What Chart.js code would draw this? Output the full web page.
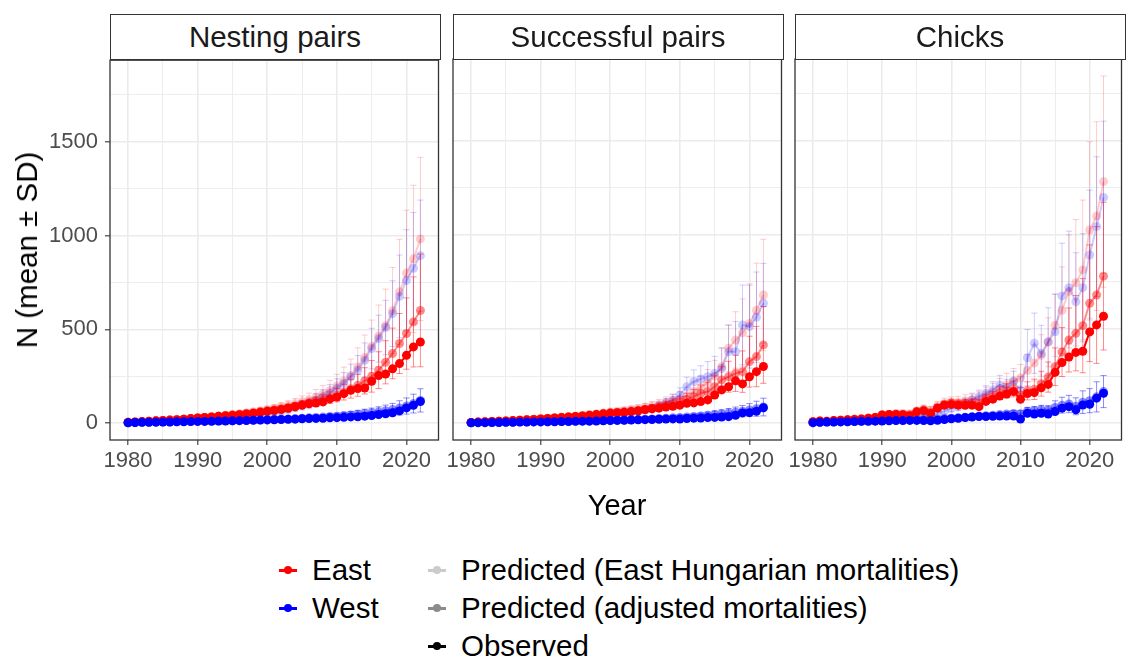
<!DOCTYPE html>
<html lang="en">
<head>
<meta charset="UTF-8">
<title>Nesting pairs, successful pairs and chicks, 1980-2022</title>
<script src="https://cdn.jsdelivr.net/npm/chart.js"></script>
<style>
    body {
        margin: 0;
        background: #fff;
        font-family: 'Liberation Sans', Arial, sans-serif;
    }
    #wrap {
        position: relative;
        width: 1126px;
        height: 657px;
        overflow: hidden;
    }
    canvas {
        position: absolute;
    }
    .strip {
        position: absolute;
        top: 14px;
        height: 46px;
        width: 331px;
        box-sizing: border-box;
        border: 1.3px solid #333;
        background: #fff;
        font-size: 29.5px;
        color: #1a1a1a;
        text-align: center;
        line-height: 43px;
    }
    .ytitle {
        position: absolute;
        left: 27px;
        top: 250px;
        transform: translate(-50%, -50%) rotate(-90deg);
        font-size: 29.5px;
        white-space: nowrap;
    }
    .xtitle {
        position: absolute;
        left: 617px;
        top: 505px;
        transform: translate(-50%, -50%);
        font-size: 29px;
    }
    .item {
        position: absolute;
        display: flex;
        align-items: center;
        transform: translateY(-50%);
        font-size: 29.5px;
        white-space: nowrap;
    }
    .key {
        position: relative;
        width: 18px;
        height: 10px;
        margin-right: 15px;
    }
    .key::before {
        content: '';
        position: absolute;
        left: 0;
        right: 0;
        top: 4px;
        height: 2.5px;
        background: currentColor;
    }
    .key::after {
        content: '';
        position: absolute;
        left: 5px;
        top: 1px;
        width: 8px;
        height: 8px;
        border-radius: 50%;
        background: currentColor;
    }
</style>
</head>
<body>
<div id="wrap">
    <canvas id="nest" width="443" height="460" style="left:0;top:40px"></canvas>
    <canvas id="succ" width="353" height="460" style="left:433px;top:40px"></canvas>
    <canvas id="chick" width="351" height="460" style="left:775px;top:40px"></canvas>

    <div class="strip" style="left:109.5px">Nesting pairs</div>
    <div class="strip" style="left:452.5px">Successful pairs</div>
    <div class="strip" style="left:794.5px">Chicks</div>

    <div class="ytitle">N (mean ± SD)</div>
    <div class="xtitle">Year</div>

    <div class="item" style="left:279px;top:570px"><span class="key" style="color:#ff0000"></span>East</div>
    <div class="item" style="left:279px;top:608px"><span class="key" style="color:#0000ff"></span>West</div>
    <div class="item" style="left:428px;top:570px"><span class="key" style="color:#000;opacity:0.2"></span>Predicted (East Hungarian mortalities)</div>
    <div class="item" style="left:428px;top:608px"><span class="key" style="color:#000;opacity:0.45"></span>Predicted (adjusted mortalities)</div>
    <div class="item" style="left:428px;top:646px"><span class="key" style="color:#000"></span>Observed</div>
</div>

<script>
    const years = [
        1980, 1981, 1982, 1983, 1984, 1985, 1986, 1987, 1988, 1989,
        1990, 1991, 1992, 1993, 1994, 1995, 1996, 1997, 1998, 1999,
        2000, 2001, 2002, 2003, 2004, 2005, 2006, 2007, 2008, 2009,
        2010, 2011, 2012, 2013, 2014, 2015, 2016, 2017, 2018, 2019,
        2020, 2021, 2022
    ];
    const xTicks = [1980, 1985, 1990, 1995, 2000, 2005, 2010, 2015, 2020];
    const yTicks = [0, 250, 500, 750, 1000, 1250, 1500, 1750];

    // Nesting pairs
    const nestEastObs = [
        5, 7, 9, 11, 13, 15, 17, 19, 22, 25,
        28, 31, 34, 37, 40, 43, 46, 50, 54, 59,
        64, 68, 73, 80, 88, 96, 104, 108, 114, 130,
        140, 158, 176, 185, 188, 224, 254, 262, 290, 318,
        362, 407, 433
    ];
    const nestWestObs = [
        3, 4, 5, 5, 6, 7, 7, 8, 8, 9,
        10, 10, 11, 12, 12, 13, 14, 15, 16, 17,
        18, 19, 20, 21, 22, 24, 25, 26, 27, 29,
        30, 32, 34, 35, 38, 41, 47, 51, 56, 66,
        82, 96, 116
    ];
    const nestEastAdj = [
        5, 7, 9, 11, 13, 15, 17, 19, 22, 25,
        28, 31, 34, 37, 40, 44, 48, 52, 56, 61,
        66, 72, 78, 85, 92, 100, 108, 116, 125, 136,
        150, 166, 184, 202, 226, 250, 283, 325, 372, 425,
        478, 540, 601
    ];
    const nestEastAdjSd = [
        1, 1, 1, 2, 2, 2, 3, 3, 3, 4,
        4, 5, 5, 6, 6, 7, 8, 8, 9, 10,
        11, 12, 14, 15, 17, 19, 21, 24, 27, 31,
        36, 42, 50, 58, 70, 84, 98, 115, 135, 160,
        190, 240, 300
    ];
    const nestWestAdj = [
        3, 4, 5, 5, 6, 7, 7, 8, 9, 9,
        10, 11, 12, 12, 13, 14, 15, 16, 17, 18,
        19, 20, 22, 23, 25, 27, 29, 31, 33, 36,
        38, 41, 44, 48, 52, 56, 61, 67, 73, 82,
        92, 105, 122
    ];
    const nestWestAdjSd = [
        1, 1, 2, 2, 2, 2, 3, 3, 3, 3,
        4, 4, 4, 5, 5, 5, 6, 6, 7, 7,
        8, 8, 9, 9, 10, 11, 12, 13, 14, 15,
        16, 17, 19, 21, 23, 25, 27, 30, 33, 38,
        43, 50, 62
    ];
    const nestEastEH = [
        5, 7, 9, 11, 13, 15, 17, 20, 23, 26,
        29, 32, 35, 39, 43, 47, 51, 56, 61, 67,
        73, 80, 88, 96, 105, 115, 126, 140, 156, 175,
        198, 225, 255, 300, 350, 410, 465, 520, 600, 700,
        800, 876, 982
    ];
    const nestEastEHSd = [
        1, 1, 2, 2, 3, 3, 3, 4, 5, 5,
        6, 7, 7, 8, 9, 10, 11, 12, 14, 15,
        17, 19, 21, 24, 27, 31, 35, 40, 46, 54,
        63, 74, 87, 102, 120, 140, 165, 195, 230, 280,
        335, 392, 435
    ];
    const nestWestEH = [
        3, 4, 5, 6, 7, 9, 10, 12, 14, 16,
        18, 20, 22, 25, 28, 31, 35, 40, 45, 50,
        55, 60, 66, 75, 85, 97, 106, 124, 141, 162,
        186, 212, 247, 283, 336, 398, 451, 510, 584, 676,
        761, 826, 893
    ];
    const nestWestEHSd = [
        1, 1, 1, 2, 2, 2, 3, 3, 3, 4,
        4, 5, 5, 6, 7, 8, 9, 10, 12, 13,
        15, 16, 18, 20, 23, 26, 29, 33, 38, 44,
        51, 58, 68, 78, 92, 108, 125, 145, 175, 220,
        270, 297, 296
    ];

    // Successful pairs
    const succEastObs = [
        4, 6, 8, 9, 11, 12, 14, 16, 18, 20,
        23, 25, 28, 30, 33, 36, 39, 42, 46, 50,
        54, 56, 58, 62, 66, 72, 76, 80, 86, 90,
        96, 106, 108, 115, 124, 150, 177, 194, 225, 209,
        247, 274, 301
    ];
    const succWestObs = [
        2, 3, 3, 4, 4, 5, 5, 6, 6, 7,
        7, 8, 8, 9, 9, 10, 11, 11, 12, 13,
        14, 15, 16, 17, 18, 19, 20, 21, 22, 23,
        22, 25, 27, 28, 30, 31, 33, 35, 42, 55,
        56, 63, 82
    ];
    const succEastAdj = [
        4, 6, 8, 9, 11, 12, 14, 16, 18, 20,
        23, 25, 28, 30, 33, 36, 39, 42, 46, 50,
        54, 57, 60, 64, 68, 74, 80, 86, 94, 104,
        114, 126, 141, 159, 168, 194, 230, 247, 265, 274,
        327, 354, 416
    ];
    const succEastAdjSd = [
        1, 1, 2, 2, 2, 3, 3, 3, 4, 4,
        5, 5, 6, 6, 7, 7, 8, 9, 9, 10,
        11, 12, 13, 14, 15, 17, 19, 21, 23, 26,
        29, 33, 38, 44, 50, 58, 70, 82, 96, 110,
        135, 160, 204
    ];
    const succWestAdj = [
        2, 3, 3, 4, 4, 5, 5, 6, 6, 7,
        8, 8, 9, 9, 10, 11, 12, 12, 13, 14,
        15, 16, 17, 18, 20, 21, 23, 25, 27, 29,
        31, 33, 36, 39, 42, 46, 50, 54, 59, 64,
        70, 77, 86
    ];
    const succWestAdjSd = [
        1, 1, 1, 1, 1, 2, 2, 2, 2, 2,
        3, 3, 3, 3, 3, 4, 4, 4, 5, 5,
        5, 6, 6, 7, 7, 8, 8, 9, 10, 11,
        12, 13, 14, 15, 17, 19, 21, 24, 27, 30,
        34, 40, 47
    ];
    const succEastEH = [
        4, 6, 8, 10, 11, 13, 15, 17, 19, 22,
        24, 27, 30, 33, 36, 39, 43, 47, 51, 56,
        60, 64, 68, 73, 78, 85, 92, 100, 110, 122,
        128, 146, 168, 190, 215, 250, 300, 398, 442, 480,
        530, 600, 681
    ];
    const succEastEHSd = [
        1, 1, 2, 2, 2, 3, 3, 3, 4, 4,
        5, 5, 6, 7, 7, 8, 9, 10, 11, 12,
        13, 14, 15, 17, 19, 21, 23, 26, 30, 34,
        39, 45, 52, 60, 70, 84, 100, 125, 150, 180,
        210, 250, 296
    ];
    const succWestEH = [
        2, 3, 4, 5, 5, 6, 7, 8, 9, 10,
        11, 12, 14, 16, 18, 20, 22, 25, 28, 31,
        40, 45, 50, 56, 62, 70, 80, 92, 106, 122,
        150, 194, 221, 235, 247, 265, 290, 380, 380, 522,
        513, 563, 637
    ];
    const succWestEHSd = [
        1, 1, 1, 1, 1, 2, 2, 2, 2, 3,
        3, 3, 4, 4, 5, 5, 6, 6, 7, 8,
        9, 10, 11, 12, 14, 16, 18, 21, 25, 30,
        38, 50, 62, 70, 80, 90, 110, 140, 160, 212,
        220, 240, 212
    ];

    // Chicks
    const chickEastObs = [
        8, 12, 10, 14, 16, 18, 20, 22, 26, 30,
        44, 46, 47, 45, 40, 60, 66, 52, 80, 96,
        100, 96, 95, 96, 88, 116, 128, 144, 155, 168,
        128, 158, 163, 188, 206, 270, 322, 352, 376, 382,
        485, 522, 568
    ];
    const chickWestObs = [
        3, 5, 6, 6, 7, 8, 9, 10, 10, 11,
        12, 13, 14, 14, 15, 15, 14, 13, 16, 20,
        24, 26, 30, 33, 36, 36, 37, 38, 38, 38,
        22, 53, 49, 53, 49, 62, 80, 88, 71, 97,
        101, 133, 159
    ];
    const chickEastAdj = [
        8, 12, 11, 14, 16, 18, 21, 23, 27, 31,
        44, 47, 49, 48, 45, 62, 70, 60, 84, 100,
        108, 104, 105, 108, 104, 128, 140, 160, 172, 182,
        150, 172, 180, 210, 245, 300, 378, 442, 478, 518,
        637, 681, 781
    ];
    const chickEastAdjSd = [
        2, 2, 2, 3, 3, 3, 4, 4, 5, 5,
        7, 8, 8, 8, 8, 10, 12, 11, 14, 17,
        19, 19, 20, 21, 21, 26, 29, 34, 38, 42,
        40, 48, 54, 66, 80, 100, 130, 170, 200, 250,
        310, 363, 392
    ];
    const chickWestAdj = [
        3, 5, 6, 7, 8, 9, 10, 11, 12, 13,
        14, 15, 16, 17, 18, 19, 20, 21, 23, 25,
        27, 29, 32, 35, 38, 40, 43, 46, 49, 52,
        50, 64, 67, 72, 70, 84, 96, 102, 90, 112,
        120, 140, 168
    ];
    const chickWestAdjSd = [
        1, 1, 2, 2, 2, 2, 3, 3, 3, 3,
        4, 4, 4, 5, 5, 5, 6, 6, 6, 7,
        7, 8, 9, 10, 11, 11, 12, 13, 14, 15,
        16, 20, 21, 23, 23, 35, 42, 46, 45, 60,
        64, 80, 85
    ];
    const chickEastEH = [
        8, 12, 11, 14, 17, 19, 22, 24, 28, 33,
        45, 48, 51, 52, 50, 66, 76, 70, 92, 105,
        110, 112, 118, 125, 130, 150, 165, 185, 205, 225,
        240, 280, 320, 360, 430, 520, 600, 700, 746, 814,
        1026, 1100, 1283
    ];
    const chickEastEHSd = [
        2, 3, 3, 4, 4, 5, 6, 6, 7, 8,
        11, 12, 13, 13, 13, 17, 20, 19, 24, 28,
        30, 31, 33, 35, 37, 42, 47, 53, 60, 66,
        72, 84, 96, 110, 130, 165, 230, 300, 336, 371,
        469, 501, 561
    ];
    const chickWestEH = [
        3, 5, 6, 7, 8, 9, 11, 12, 14, 16,
        20, 22, 24, 26, 28, 34, 40, 40, 52, 64,
        80, 88, 106, 124, 141, 159, 177, 203, 186, 221,
        177, 348, 425, 370, 433, 486, 676, 720, 645, 720,
        893, 1044, 1199
    ];
    const chickWestEHSd = [
        1, 1, 2, 2, 2, 2, 3, 3, 3, 4,
        5, 5, 6, 6, 7, 8, 10, 10, 13, 16,
        20, 22, 27, 31, 35, 40, 44, 51, 47, 55,
        70, 150, 160, 150, 180, 200, 280, 300, 260, 287,
        345, 371, 405
    ];

    Chart.defaults.font.family = "'Liberation Sans', Arial, sans-serif";

    const RED = [255, 0, 0];
    const BLUE = [0, 0, 255];

    // vertical mean ± SD bars, drawn just before the series they belong to
    const errorBars = {
        id: 'errorBars',
        beforeDatasetDraw(chart, args) {
            const ds = chart.data.datasets[args.index];
            if (!ds.sd) return;
            const xs = chart.scales.x, ys = chart.scales.y, a = chart.chartArea;
            const ctx = chart.ctx;
            ctx.save();
            ctx.beginPath();
            ctx.rect(a.left, a.top, a.right - a.left, a.bottom - a.top);
            ctx.clip();
            ctx.strokeStyle = ds.borderColor;
            ctx.lineWidth = 1;
            ds.data.forEach((p, i) => {
                const px = xs.getPixelForValue(p.x);
                const x0 = xs.getPixelForValue(p.x - 0.45);
                const x1 = xs.getPixelForValue(p.x + 0.45);
                const top = ys.getPixelForValue(p.y + ds.sd[i]);
                const bot = ys.getPixelForValue(p.y - ds.sd[i]);
                ctx.beginPath();
                ctx.moveTo(px, top); ctx.lineTo(px, bot);
                ctx.moveTo(x0, top); ctx.lineTo(x1, top);
                ctx.moveTo(x0, bot); ctx.lineTo(x1, bot);
                ctx.stroke();
            });
            ctx.restore();
        }
    };

    const panelFrame = {
        id: 'panelFrame',
        afterDraw(chart) {
            const a = chart.chartArea, ctx = chart.ctx;
            ctx.save();
            ctx.strokeStyle = '#333333';
            ctx.lineWidth = 1.3;
            ctx.strokeRect(a.left, a.top, a.right - a.left, a.bottom - a.top);
            ctx.restore();
        }
    };

    function series(values, rgb, alpha, sd, order) {
        const col = `rgba(${rgb[0]}, ${rgb[1]}, ${rgb[2]}, ${alpha})`;
        return {
            data: years.map((yr, i) => ({x: yr, y: values[i]})),
            borderColor: col,
            backgroundColor: col,
            borderWidth: 2,
            pointRadius: 4.5,
            pointBorderWidth: 0,
            pointHoverRadius: 4.5,
            sd: sd,
            order: order
        };
    }

    function isMajor(v, step) {
        return Math.round(v) % step === 0;
    }

    function drawPanel(id, d, showY, pad) {
        new Chart(document.getElementById(id), {
            type: 'line',
            data: {
                datasets: [
                    series(d.eastEH, RED, 0.2, d.eastEHSd, 6),
                    series(d.westEH, BLUE, 0.2, d.westEHSd, 5),
                    series(d.eastAdj, RED, 0.45, d.eastAdjSd, 4),
                    series(d.westAdj, BLUE, 0.45, d.westAdjSd, 3),
                    series(d.eastObs, RED, 1, null, 2),
                    series(d.westObs, BLUE, 1, null, 1)
                ]
            },
            options: {
                responsive: false,
                animation: false,
                devicePixelRatio: 1,
                layout: {padding: pad},
                plugins: {
                    legend: {display: false},
                    tooltip: {enabled: false}
                },
                scales: {
                    x: {
                        type: 'linear',
                        min: 1977.4,
                        max: 2024.6,
                        afterBuildTicks: s => { s.ticks = xTicks.map(v => ({value: v})); },
                        afterFit: s => { s.height = 60; },
                        border: {display: false},
                        grid: {
                            color: '#ebebeb',
                            lineWidth: c => c.tick && isMajor(c.tick.value, 10) ? 1.6 : 0.9,
                            tickLength: 5,
                            tickWidth: 1.1,
                            tickColor: c => c.tick && isMajor(c.tick.value, 10) ? '#333333' : 'rgba(0,0,0,0)'
                        },
                        ticks: {
                            autoSkip: false,
                            maxRotation: 0,
                            padding: 3,
                            color: '#4d4d4d',
                            font: {size: 22},
                            callback: v => isMajor(v, 10) ? String(v) : ''
                        }
                    },
                    y: {
                        min: -89,
                        max: 1934,
                        afterBuildTicks: s => { s.ticks = yTicks.map(v => ({value: v})); },
                        afterFit: s => { s.width = showY ? 110 : 0; },
                        border: {display: false},
                        grid: {
                            color: '#ebebeb',
                            lineWidth: c => c.tick && isMajor(c.tick.value, 500) ? 1.6 : 0.9,
                            drawTicks: showY,
                            tickLength: 5,
                            tickWidth: 1.1,
                            tickColor: c => c.tick && isMajor(c.tick.value, 500) ? '#333333' : 'rgba(0,0,0,0)'
                        },
                        ticks: {
                            display: showY,
                            padding: 7,
                            color: '#4d4d4d',
                            font: {size: 22},
                            callback: v => isMajor(v, 500) ? String(v) : ''
                        }
                    }
                }
            },
            plugins: [errorBars, panelFrame]
        });
    }

    drawPanel('nest', {
        eastObs: nestEastObs, westObs: nestWestObs,
        eastAdj: nestEastAdj, eastAdjSd: nestEastAdjSd,
        westAdj: nestWestAdj, westAdjSd: nestWestAdjSd,
        eastEH: nestEastEH, eastEHSd: nestEastEHSd,
        westEH: nestWestEH, westEHSd: nestWestEHSd
    }, true, {left: 0, top: 19, right: 3, bottom: 0});

    drawPanel('succ', {
        eastObs: succEastObs, westObs: succWestObs,
        eastAdj: succEastAdj, eastAdjSd: succEastAdjSd,
        westAdj: succWestAdj, westAdjSd: succWestAdjSd,
        eastEH: succEastEH, eastEHSd: succEastEHSd,
        westEH: succWestEH, westEHSd: succWestEHSd
    }, false, {left: 20, top: 19, right: 3, bottom: 0});

    drawPanel('chick', {
        eastObs: chickEastObs, westObs: chickWestObs,
        eastAdj: chickEastAdj, eastAdjSd: chickEastAdjSd,
        westAdj: chickWestAdj, westAdjSd: chickWestAdjSd,
        eastEH: chickEastEH, eastEHSd: chickEastEHSd,
        westEH: chickWestEH, westEHSd: chickWestEHSd
    }, false, {left: 20, top: 19, right: 1, bottom: 0});
</script>
</body>
</html>
